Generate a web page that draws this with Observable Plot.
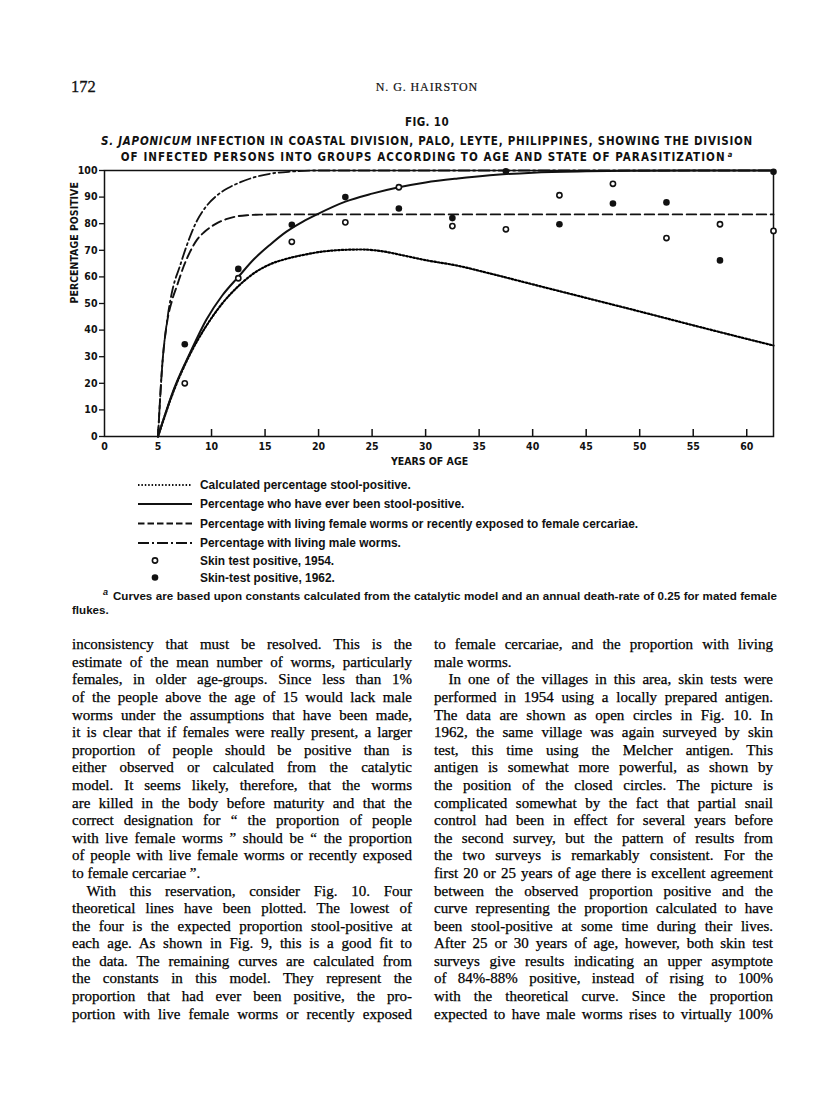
<!DOCTYPE html>
<html>
<head>
<meta charset="utf-8">
<script src="https://cdn.jsdelivr.net/npm/d3@7"></script>
<script src="https://cdn.jsdelivr.net/npm/@observablehq/plot@0.6"></script>
<style>
html, body { margin: 0; padding: 0; background: #fff; }
#page { position: relative; width: 816px; height: 1094px; overflow: hidden; color: #111; }
.abs { position: absolute; }
.serif { font-family: "Liberation Serif", "Times New Roman", serif; }
.cond { font-family: "Liberation Sans Narrow", "Arial Narrow", "DejaVu Sans Condensed", sans-serif; font-stretch: condensed; font-weight: bold; }
.sans { font-family: "Liberation Sans", Arial, sans-serif; font-weight: bold; }
.center { left: 19px; width: 816px; text-align: center; white-space: nowrap; }
.col { font-family: "Liberation Serif", "Times New Roman", serif; font-size: 15px; line-height: 17.6px; color: #000; -webkit-text-stroke: 0.25px #000; }
.col div { height: 17.6px; text-align: justify; text-align-last: justify; }
.col div.l { text-align: left; text-align-last: left; }
.col div.ind { padding-left: 14.5px; }
.leg { font-size: 11.9px; line-height: 14px; height: 14px; white-space: nowrap; }
.foot { font-size: 11.6px; line-height: 14px; height: 14px; white-space: nowrap; }
#chart { position: absolute; left: 0; top: 160px; }
</style>
</head>
<body>
<div id="page">
  <div class="abs serif" style="left:71px; top:78px; font-size:16.5px; line-height:18px; -webkit-text-stroke:0.3px #111;">172</div>
  <div class="abs serif center" style="top:80px; font-size:12px; line-height:14px; letter-spacing:0.9px; -webkit-text-stroke:0.2px #111;">N. G. HAIRSTON</div>
  <div class="abs cond center" style="top:115px; font-size:11.5px; line-height:14px; letter-spacing:0.4px;">FIG. 10</div>
  <div class="abs cond center" style="top:134px; font-size:11.5px; line-height:14px; letter-spacing:0.75px;"><i>S. JAPONICUM</i> INFECTION IN COASTAL DIVISION, PALO, LEYTE, PHILIPPINES, SHOWING THE DIVISION</div>
  <div class="abs cond center" style="top:149.5px; font-size:11.5px; line-height:14px; letter-spacing:1.05px;">OF INFECTED PERSONS INTO GROUPS ACCORDING TO AGE AND STATE OF PARASITIZATION<span style="font-size:7.5px; font-style:italic; position:relative; top:-4px; margin-left:2px;">a</span></div>

  <div id="chart"></div>

  <svg class="abs" style="left:0; top:470px;" width="816" height="120" id="legsvg"></svg>
  <div id="legtext"></div>

  <div class="abs sans" style="left:103px; top:587px; font-size:9px; line-height:10px; font-style:italic;">a</div>
  <div class="abs sans foot" style="left:113px; width:664px; top:589px; text-align:justify; text-align-last:justify;">Curves are based upon constants calculated from the catalytic model and an annual death-rate of 0.25 for mated female</div>
  <div class="abs sans foot" style="left:72px; top:603px;">flukes.</div>

  <div class="abs col" id="left" style="left:72px; width:340px; top:636.2px;"></div>
  <div class="abs col" id="right" style="left:434px; width:339px; top:636.2px;"></div>
</div>

<script>
// ---------- data ----------
const xTicks = [0, 5, 10, 15, 20, 25, 30, 35, 40, 45, 50, 55, 60];
const yTicks = [0, 10, 20, 30, 40, 50, 60, 70, 80, 90, 100];

// age-group mid-points of the skin-test surveys
const surveyAges = [7.5, 12.5, 17.5, 22.5, 27.5, 32.5, 37.5, 42.5, 47.5, 52.5, 57.5, 62.5];
const skin1954 = [20, 59.5, 73.2, 80.5, 93.7, 79.1, 77.9, 90.7, 95.0, 74.6, 79.8, 77.3];
const skin1962 = [34.7, 63.0, 79.6, 90.0, 85.7, 82.1, 99.7, 79.8, 87.6, 88.0, 66.2, 99.5];

// calculated percentage stool-positive (dotted)
const stoolAge = [5, 6.5, 8, 9.5, 11, 12.5, 14, 15.5, 17, 18.5, 20, 22, 24, 26, 28, 30, 33, 36, 40, 45, 50, 55, 60, 62.5];
const stoolPct = [0, 17.5, 31, 41.5, 50, 56.5, 61.5, 64.8, 66.8, 68.2, 69.3, 70.1, 70.3, 69.6, 68, 66.3, 64.2, 61.3, 57.2, 52.1, 47, 41.8, 36.7, 34.2];

// percentage who have ever been stool-positive (solid)
const everAge = [5, 6.5, 8, 9.5, 11, 12.5, 14, 15.5, 17, 18.5, 20, 22.5, 25, 27.5, 30, 33, 36, 40, 45, 50, 55, 62.5];
const everPct = [0, 18, 31.5, 43.8, 53, 60, 66.8, 72.2, 77, 80.7, 83.8, 88.3, 91.3, 93.7, 95.5, 97, 98.2, 99.2, 99.7, 99.9, 100, 100];

// percentage with living female worms or recently exposed (dashed)
const femaleAge = [5, 5.4, 5.85, 6.3, 6.8, 7.4, 8, 8.65, 9.3, 9.9, 10.6, 11.45, 12.3, 13.3, 14.5, 16, 62.5];
const femalePct = [0, 27, 43, 51, 57, 64, 69.5, 74, 76.8, 78.7, 80.4, 81.8, 82.7, 83.2, 83.4, 83.5, 83.5];

// percentage with living male worms (dash-dot)
const maleAge = [5, 5.4, 5.9, 6.4, 7, 7.7, 8.5, 9.5, 10.5, 11.5, 12.7, 14.5, 16, 17.5, 19.5, 62.5];
const malePct = [0, 27, 45, 56, 63.5, 72, 80, 86.5, 90.6, 93.3, 95.6, 98, 99.1, 99.6, 100, 100];

const legendLabels = [
  "Calculated percentage stool-positive.",
  "Percentage who have ever been stool-positive.",
  "Percentage with living female worms or recently exposed to female cercariae.",
  "Percentage with living male worms.",
  "Skin test positive, 1954.",
  "Skin-test positive, 1962."
];

// ---------- styles ----------
const INK = "#111";
const DOTTED = "1.6,2";
const DASHED = "9.5,4.5";
const DASHDOT = "11,3.5,2,3.5";

const toRows = (xs, ys) => xs.map((x, i) => ({age: x, pct: ys[i]}));
const stool = toRows(stoolAge, stoolPct);
const ever = toRows(everAge, everPct);
const female = toRows(femaleAge, femalePct);
const male = toRows(maleAge, malePct);
const obs1954 = toRows(surveyAges, skin1954);
const obs1962 = toRows(surveyAges, skin1962);

const condFont = '"Liberation Sans Narrow", "Arial Narrow", "DejaVu Sans Condensed", sans-serif';

const chart = Plot.plot({
  width: 816,
  height: 320,
  marginTop: 10,
  marginBottom: 44,
  marginLeft: 104,
  marginRight: 43,
  x: {domain: [0, 62.5]},
  y: {domain: [0, 100]},
  style: {fontFamily: condFont, fontSize: "10.5px", fontWeight: "bold", color: INK, background: "transparent", overflow: "visible"},
  marks: [
    Plot.axisY(yTicks, {tickSize: 5, tickPadding: 2, label: null, strokeWidth: 1.3, fontWeight: "bold"}),
    Plot.axisX(xTicks, {tickSize: 0, tickPadding: 6.5, label: null, fontWeight: "bold"}),
    Plot.ruleX(xTicks.slice(1), {x: d => d, y1: () => 0, insetTop: -7, stroke: INK, strokeWidth: 1.5}),
    Plot.line(stool, {x: "age", y: "pct", curve: "monotone-x", stroke: "#000", strokeWidth: 2.2, strokeDasharray: DOTTED}),
    Plot.line(ever, {x: "age", y: "pct", curve: "monotone-x", stroke: INK, strokeWidth: 2}),
    Plot.line(female, {x: "age", y: "pct", curve: "monotone-x", stroke: INK, strokeWidth: 1.9, strokeDasharray: DASHED}),
    Plot.line(male, {x: "age", y: "pct", curve: "monotone-x", stroke: INK, strokeWidth: 1.8, strokeDasharray: DASHDOT}),
    Plot.frame({stroke: INK, strokeWidth: 1.5}),
    Plot.dot(obs1954, {x: "age", y: "pct", r: 2.6, stroke: INK, strokeWidth: 1.6, fill: "white"}),
    Plot.dot(obs1962, {x: "age", y: "pct", r: 3.3, fill: INK, stroke: "none"}),
    Plot.text(["PERCENTAGE POSITIVE"], {text: d => d, frameAnchor: "left", rotate: -90, dx: -30, fontWeight: "bold", fontSize: 10.5, fill: INK}),
    Plot.text(["YEARS OF AGE"], {text: d => d, frameAnchor: "bottom", dx: -9.5, dy: 28, fontWeight: "bold", fontSize: 10.5, fill: INK})
  ]
});
document.getElementById("chart").appendChild(chart);

// ---------- legend ----------
const legRows = [485, 504, 523.5, 543, 560.5, 577.5];
const legTop = 470;
const svg = d3.select("#legsvg");
const lineStyles = [
  {dash: "1.5,1.9", w: 2},
  {dash: null, w: 2},
  {dash: "6.5,3", w: 1.9},
  {dash: "11,3,2,3", w: 1.8}
];
lineStyles.forEach((s, i) => {
  const y = legRows[i] - legTop;
  svg.append("line").attr("x1", 138).attr("x2", 192).attr("y1", y).attr("y2", y)
    .attr("stroke", INK).attr("stroke-width", s.w).attr("stroke-dasharray", s.dash);
});
svg.append("circle").attr("cx", 155).attr("cy", legRows[4] - legTop).attr("r", 2.6)
  .attr("fill", "white").attr("stroke", INK).attr("stroke-width", 1.6);
svg.append("circle").attr("cx", 155).attr("cy", legRows[5] - legTop).attr("r", 3.3).attr("fill", INK);

const lt = document.getElementById("legtext");
legendLabels.forEach((t, i) => {
  const d = document.createElement("div");
  d.className = "abs sans leg";
  d.style.left = "200px";
  d.style.top = (legRows[i] - 7) + "px";
  d.textContent = t;
  lt.appendChild(d);
});

// ---------- body text ----------
const leftLines = [
  ["inconsistency that must be resolved. This is the", ""],
  ["estimate of the mean number of worms, particularly", ""],
  ["females, in older age-groups. Since less than 1%", ""],
  ["of the people above the age of 15 would lack male", ""],
  ["worms under the assumptions that have been made,", ""],
  ["it is clear that if females were really present, a larger", ""],
  ["proportion of people should be positive than is", ""],
  ["either observed or calculated from the catalytic", ""],
  ["model. It seems likely, therefore, that the worms", ""],
  ["are killed in the body before maturity and that the", ""],
  ["correct designation for \u201C the proportion of people", ""],
  ["with live female worms \u201D should be \u201C the proportion", ""],
  ["of people with live female worms or recently exposed", ""],
  ["to female cercariae \u201D.", "l"],
  ["With this reservation, consider Fig. 10. Four", "ind"],
  ["theoretical lines have been plotted. The lowest of", ""],
  ["the four is the expected proportion stool-positive at", ""],
  ["each age. As shown in Fig. 9, this is a good fit to", ""],
  ["the data. The remaining curves are calculated from", ""],
  ["the constants in this model. They represent the", ""],
  ["proportion that had ever been positive, the pro-", ""],
  ["portion with live female worms or recently exposed", ""]
];
const rightLines = [
  ["to female cercariae, and the proportion with living", ""],
  ["male worms.", "l"],
  ["In one of the villages in this area, skin tests were", "ind"],
  ["performed in 1954 using a locally prepared antigen.", ""],
  ["The data are shown as open circles in Fig. 10. In", ""],
  ["1962, the same village was again surveyed by skin", ""],
  ["test, this time using the Melcher antigen. This", ""],
  ["antigen is somewhat more powerful, as shown by", ""],
  ["the position of the closed circles. The picture is", ""],
  ["complicated somewhat by the fact that partial snail", ""],
  ["control had been in effect for several years before", ""],
  ["the second survey, but the pattern of results from", ""],
  ["the two surveys is remarkably consistent. For the", ""],
  ["first 20 or 25 years of age there is excellent agreement", ""],
  ["between the observed proportion positive and the", ""],
  ["curve representing the proportion calculated to have", ""],
  ["been stool-positive at some time during their lives.", ""],
  ["After 25 or 30 years of age, however, both skin test", ""],
  ["surveys give results indicating an upper asymptote", ""],
  ["of 84%-88% positive, instead of rising to 100%", ""],
  ["with the theoretical curve. Since the proportion", ""],
  ["expected to have male worms rises to virtually 100%", ""]
];
function fill(id, lines) {
  const el = document.getElementById(id);
  lines.forEach(([t, c]) => {
    const d = document.createElement("div");
    if (c) d.className = c;
    d.textContent = t;
    el.appendChild(d);
  });
}
fill("left", leftLines);
fill("right", rightLines);
</script>
</body>
</html>
